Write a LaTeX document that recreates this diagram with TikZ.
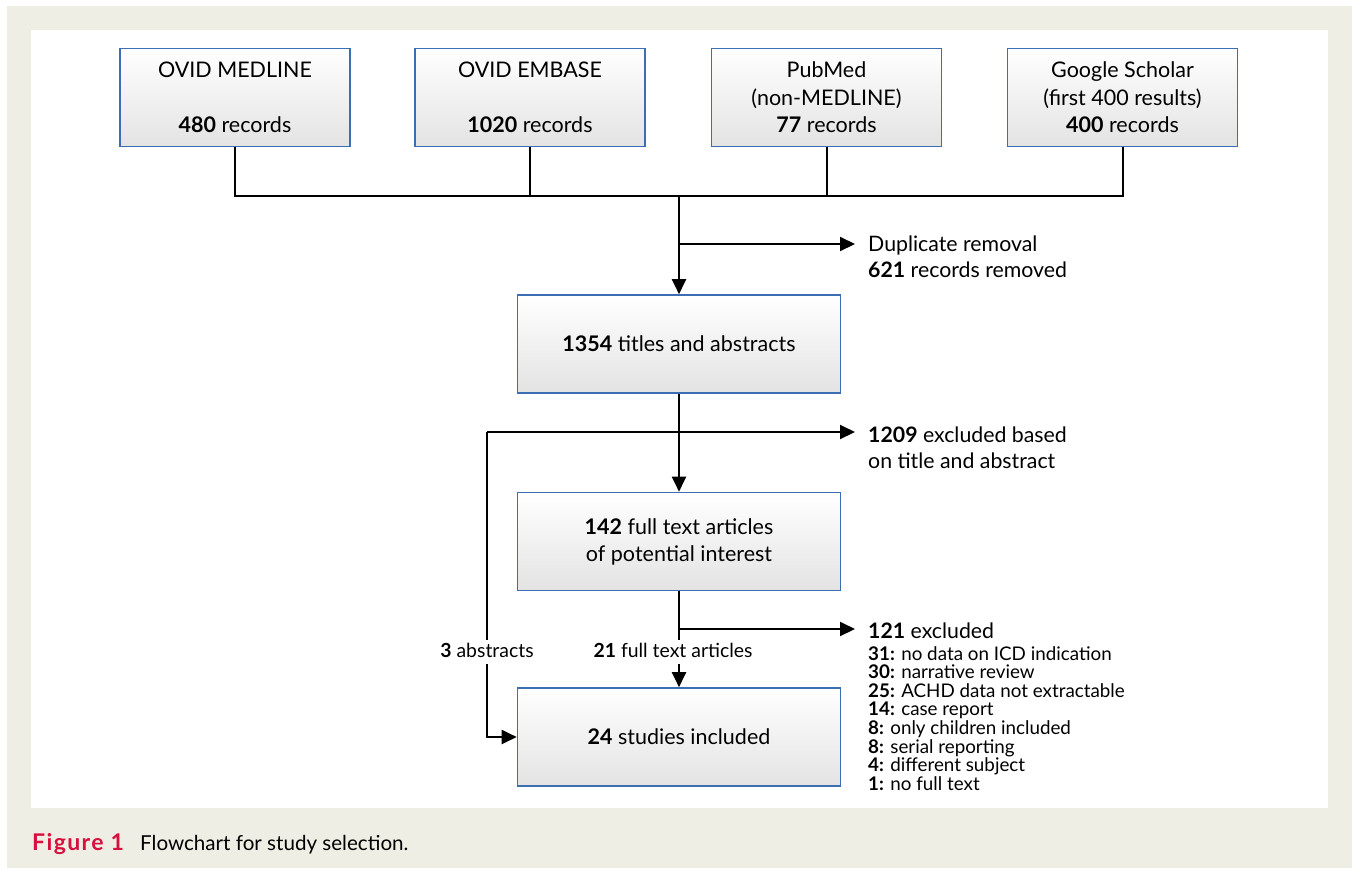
\documentclass[tikz,border=0pt]{standalone}
\usepackage{fontspec}
\setmainfont{Lato}
\usetikzlibrary{arrows.meta}
\definecolor{beige}{HTML}{EFEEE4}
\definecolor{boxblue}{HTML}{3C6EB4}
\definecolor{figred}{HTML}{D6103F}
\begin{document}
\begin{tikzpicture}[x=1pt,y=-1pt,
  box/.style={draw=boxblue, line width=1.6pt, top color=white, bottom color=black!11,
    minimum width=230pt, minimum height=98pt, align=center, inner sep=0pt,
    font=\fontsize{21.5}{27.5}\selectfont},
  wide/.style={box, minimum width=323pt, font=\fontsize{21.5}{27}\selectfont},
  conn/.style={line width=2pt, black},
  arr/.style={conn, -{Triangle[length=15pt,width=14pt]}},
  side/.style={anchor=west, align=left, inner sep=0pt, font=\fontsize{21.3}{26}\selectfont},
  lbl/.style={fill=white, inner sep=3pt, text height=14pt, text depth=4pt,
    font=\fontsize{19.4}{20}\selectfont}]
% background
\fill[white] (0,0) rectangle (1354,868);
\fill[beige] (7,6) rectangle (1352,868);
\fill[white] (31,30) rectangle (1328,808);
% source boxes
\node[box] (med) at (235,97.5) {OVID MEDLINE\\ \mbox{}\\\textbf{480} records};
\node[box] (emb) at (530,97.5) {OVID EMBASE\\ \mbox{}\\\textbf{1020} records};
\node[box] (pub) at (826.5,97.5) {PubMed\\(non-MEDLINE)\\\textbf{77} records};
\node[box] (goo) at (1122.5,97.5) {Google Scholar\\(first 400 results)\\\textbf{400} records};
% process boxes
\node[wide] (tit) at (679,344) {\textbf{1354} titles and abstracts};
\node[wide] (ful) at (679,541.5) {\textbf{142} full text articles\\of potential interest};
\node[wide] (inc) at (679,737) {\textbf{24} studies included};
% side texts
\node[side] (dup) at (868,257) {Duplicate removal\\\textbf{621} records removed};
\node[side] (ex1) at (868,447.5) {\textbf{1209} excluded based\\on title and abstract};
\node[side] (ex2) at (868,631) {\textbf{121} excluded};
\node[anchor=north west, align=left, inner sep=0pt, font=\fontsize{18.8}{18.6}\selectfont] (lst) at (868,646)
  {\textbf{31:} no data on ICD indication\\
   \textbf{30:} narrative review\\
   \textbf{25:} ACHD data not extractable\\
   \textbf{14:} case report\\
   \textbf{8:} only children included\\
   \textbf{8:} serial reporting\\
   \textbf{4:} different subject\\
   \textbf{1:} no full text};
% labels on lines
\node[lbl] (l3) at (487,652) {\textbf{3} abstracts};
\node[lbl] (l21) at (673,652) {\textbf{21} full text articles};
% connectors
\coordinate (j) at (679,196);
\coordinate (d) at (679,244);
\coordinate (a3) at (487,432);
\coordinate (b) at (679,629);
\draw[conn] (med.south) -- (med.south |- j) -- (goo.south |- j) -- (goo.south);
\draw[conn] (emb.south) -- (emb.south |- j);
\draw[conn] (pub.south) -- (pub.south |- j);
\draw[arr] (j) -- (tit.north);
\draw[arr] (d) -- ([xshift=-13pt]dup.west |- d);
\draw[arr] (tit.south) -- (ful.north);
\draw[arr] (a3) -- ([xshift=-13pt]ex1.west |- a3);
\draw[conn] (a3) -- (l3.north);
\draw[arr] (l3.south) |- (inc.west);
\draw[conn] (ful.south) -- (b);
\draw[arr] (b) -- ([xshift=-13pt]ex2.west |- b);
\draw[conn] (b) -- (b |- l21.north);
\draw[arr] (b |- l21.south) -- (inc.north);
% caption
\node[anchor=base west, inner sep=0pt, font=\fontsize{23}{24}\selectfont\bfseries\addfontfeature{LetterSpace=6}, text=figred] (fig) at (32,850) {Figure 1};
\node[anchor=base west, inner sep=0pt, font=\fontsize{20.6}{24}\selectfont] (cap) at (140,850) {Flowchart for study selection.};
\end{tikzpicture}
\end{document}
